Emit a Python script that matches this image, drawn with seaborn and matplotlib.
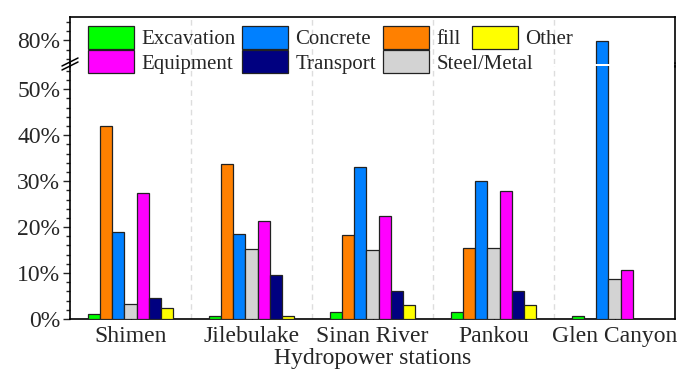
import pandas as pd
import seaborn as sns
import matplotlib.pyplot as plt
from matplotlib.lines import Line2D
from matplotlib.ticker import MultipleLocator, FuncFormatter

stations = ["Shimen", "Jilebulake", "Sinan River", "Pankou", "Glen Canyon"]
materials = ["Excavation", "fill", "Concrete", "Steel/Metal", "Equipment", "Transport", "Other"]
colors = ["#00ff00", "#ff8000", "#0080ff", "#d3d3d3", "#ff00ff", "#000080", "#ffff00"]

# shares in % for each station
excavation = [1.1, 0.7, 1.6, 1.5, 0.7]
fill = [42.0, 33.7, 18.2, 15.5, 0.0]
concrete = [18.9, 18.6, 33.0, 30.1, 79.8]
steel = [3.3, 15.2, 15.0, 15.5, 8.7]
equipment = [27.4, 21.3, 22.4, 27.9, 10.7]
transport = [4.6, 9.5, 6.1, 6.1, 0.0]
other = [2.3, 0.7, 3.1, 3.1, 0.0]

values = [excavation, fill, concrete, steel, equipment, transport, other]
rows = []
for m, vals in zip(materials, values):
    for s, v in zip(stations, vals):
        rows.append({"station": s, "material": m, "value": v})
df = pd.DataFrame(rows)

sns.set_style("ticks")
plt.rcParams["font.family"] = ["Liberation Serif", "DejaVu Serif"]
plt.rcParams["axes.linewidth"] = 1.2

W, H = 678, 370
fig = plt.figure(figsize=(W / 100, H / 100), dpi=100)
ax_top = fig.add_axes([70 / W, 1 - 63.5 / H, 605 / W, 46.2 / H])
ax = fig.add_axes([70 / W, 1 - 319 / H, 605 / W, 252.7 / H])

for a in (ax_top, ax):
    sns.barplot(data=df, x="station", y="value", hue="material", hue_order=materials,
                order=stations, palette=colors, saturation=1, width=0.7, errorbar=None,
                edgecolor="#222222", linewidth=0.9, ax=a, zorder=3)
    for xv in [0.5, 1.5, 2.5, 3.5]:
        a.axvline(xv, color="#dddddd", lw=1, ls=(0, (4, 3)), zorder=1)
    a.set_xlim(-0.5, 4.5)
    for sp in a.spines.values():
        sp.set_color("black")

handles, labels = ax.get_legend_handles_labels()
ax.get_legend().remove()
ax_top.get_legend().remove()

ax.set_ylim(0, 55)
ax.yaxis.set_major_locator(MultipleLocator(10))
ax.yaxis.set_minor_locator(MultipleLocator(2))
ax.yaxis.set_major_formatter(FuncFormatter(lambda v, p: f"{v:.0f}%"))
ax.spines["top"].set_visible(False)
ax.tick_params(axis="y", which="major", direction="out", length=5, width=1, labelsize=17, pad=2)
ax.tick_params(axis="y", which="minor", direction="out", length=3, width=1)
ax.tick_params(axis="x", direction="in", length=4, width=1, labelsize=17, pad=5)
ax.set_xlabel("Hydropower stations", fontsize=17, labelpad=1)
ax.set_ylabel("")

ax_top.set_ylim(75, 85)
ax_top.set_yticks([80])
ax_top.yaxis.set_minor_locator(MultipleLocator(2))
ax_top.yaxis.set_major_formatter(FuncFormatter(lambda v, p: f"{v:.0f}%"))
ax_top.spines["bottom"].set_visible(False)
ax_top.tick_params(axis="y", which="major", direction="out", length=5, width=1, labelsize=17, pad=2)
ax_top.tick_params(axis="y", which="minor", direction="out", length=3, width=1)
ax_top.tick_params(axis="x", bottom=False, labelbottom=False)
ax_top.set_xlabel("")
ax_top.set_ylabel("")

# spines across the break gap and the break marks
to_fig = lambda x, y: (x / W, 1 - y / H)
for xp in (70, 675):
    fig.add_artist(Line2D(*zip(to_fig(xp, 63), to_fig(xp, 67)), color="black", lw=1.2))
for dy in (0, 4):
    fig.add_artist(Line2D(*zip(to_fig(62, 66 + dy), to_fig(78, 58 + dy)), color="black", lw=1.1))

# legend: 3 aligned columns, "Other" tucked after "fill" on the first row
lookup = dict(zip(labels, handles))
leg_kw = dict(loc="upper left", frameon=False, fontsize=15, handlelength=2.2,
              handleheight=1.3, handletextpad=0.34, columnspacing=0.35,
              labelspacing=0.05, borderpad=0, borderaxespad=0)
leg_order = ["Excavation", "Equipment", "Concrete", "Transport", "fill", "Steel/Metal"]
fig.legend([lookup[k] for k in leg_order], leg_order, ncol=3,
           bbox_to_anchor=(88 / W, 1 - 26 / H), **leg_kw)
fig.legend([lookup["Other"]], ["Other"], bbox_to_anchor=(472 / W, 1 - 26 / H), **leg_kw)

fig.savefig("out.png", dpi=100)
